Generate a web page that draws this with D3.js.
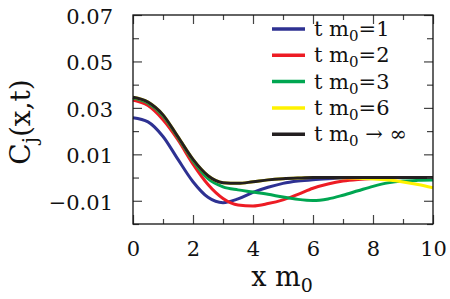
<!DOCTYPE html>
<html lang="en">
  <head>
    <meta charset="UTF-8"/>
    <title>Cj(x,t)</title>
    <script src="https://d3js.org/d3.v7.min.js"></script>
    <style>
        body {
          margin: 0;
          background: #fff;
        }
        text {
          font-family: "DejaVu Serif", serif;
          fill: #111;
        }
        .axis path {
          display: none;
        }
        .axis line {
          stroke: #444;
          stroke-width: 1.2;
        }
        .frame {
          fill: none;
          stroke: #111;
          stroke-width: 1.3;
        }
        .curve {
          fill: none;
          stroke-width: 3;
        }
    </style>
  </head>
  <body>
    <script>
        // x grid shared by every series
        const xs = [0, 0.5, 1, 1.5, 2, 2.5, 3, 3.5, 4, 4.5, 5, 5.5, 6, 6.5, 7, 7.5, 8, 8.5, 9, 9.5, 10]

        // values
        const t1 = [0.0258, 0.0240, 0.0177, 0.0078, -0.0018, -0.0085, -0.0108, -0.0092, -0.0064, -0.0042, -0.0025, -0.0015, -0.0009, -0.0005, -0.0002, 0, 0, 0, 0, 0, 0]
        const t2 = [0.0334, 0.0310, 0.0249, 0.0162, 0.0058, -0.0030, -0.0090, -0.0118, -0.0122, -0.0112, -0.0096, -0.0072, -0.0046, -0.0028, -0.0015, -0.0008, -0.0004, -0.0002, 0, 0, 0]
        const t3 = [0.0342, 0.0320, 0.0265, 0.0172, 0.0072, -0.0005, -0.0040, -0.0053, -0.0062, -0.0072, -0.0084, -0.0094, -0.0099, -0.0092, -0.0076, -0.0057, -0.0038, -0.0023, -0.0015, -0.0012, -0.0011]
        const t6 = [0.0346, 0.0325, 0.0270, 0.0175, 0.0078, 0.0008, -0.0022, -0.0025, -0.0018, -0.0010, -0.0005, -0.0002, 0, 0, -0.0001, -0.0003, -0.0006, -0.0011, -0.0019, -0.0030, -0.0044]
        const tInf = [0.0346, 0.0325, 0.0270, 0.0175, 0.0078, 0.0008, -0.0022, -0.0025, -0.0018, -0.0010, -0.0005, -0.0002, 0, 0, 0, 0, 0, 0, 0, 0, 0]

        const labels = ["=1", "=2", "=3", "=6", " \u2192 \u221e"]
        const colors = ["#2e3192", "#ed1c24", "#00a651", "#fff200", "#231f20"]
        const series = [t1, t2, t3, t6, tInf]

        const xMajor = [0, 2, 4, 6, 8, 10]
        const xMinor = [1, 3, 5, 7, 9]
        const yMajor = [-0.01, 0.01, 0.03, 0.05, 0.07]
        const yMinor = [-0.02, 0, 0.02, 0.04, 0.06]

        const width = 450, height = 299
        const margin = {left: 133, right: 433, top: 15, bottom: 224}

        const x = d3.scaleLinear().domain([0, 10]).range([margin.left, margin.right])
        const y = d3.scaleLinear().domain([-0.02, 0.07]).range([margin.bottom, margin.top])

        const svg = d3.select("body").append("svg")
            .attr("width", width)
            .attr("height", height)

        // plot lines first, frame and ticks on top
        const line = d3.line()
            .x((d, i) => x(xs[i]))
            .y(d => y(d))
            .curve(d3.curveMonotoneX)

        series.forEach((s, i) => {
          svg.append("path")
              .attr("class", "curve")
              .attr("stroke", colors[i])
              .attr("d", line(s))
        })

        // ticks on all four sides, pointing inward
        const fmt = d => d3.format(".2f")(d).replace("-", "\u2212")

        svg.append("g")
            .attr("class", "axis")
            .attr("transform", `translate(0, ${margin.bottom})`)
            .call(d3.axisBottom(x).tickValues(xMajor).tickSize(-9).tickPadding(17).tickFormat(d3.format("d")))
            .call(g => g.selectAll("text").attr("font-size", 21).attr("dy", "0.71em"))
        svg.append("g")
            .attr("class", "axis")
            .attr("transform", `translate(0, ${margin.bottom})`)
            .call(d3.axisBottom(x).tickValues(xMinor).tickSize(-5).tickFormat(""))
        svg.append("g")
            .attr("class", "axis")
            .attr("transform", `translate(0, ${margin.top})`)
            .call(d3.axisTop(x).tickValues(xMajor).tickSize(-9).tickFormat(""))
        svg.append("g")
            .attr("class", "axis")
            .attr("transform", `translate(0, ${margin.top})`)
            .call(d3.axisTop(x).tickValues(xMinor).tickSize(-5).tickFormat(""))

        svg.append("g")
            .attr("class", "axis")
            .attr("transform", `translate(${margin.left}, 0)`)
            .call(d3.axisLeft(y).tickValues(yMajor).tickSize(-9).tickPadding(20).tickFormat(fmt))
            .call(g => g.selectAll("text").attr("font-size", 21).attr("dy", "0.4em"))
        svg.append("g")
            .attr("class", "axis")
            .attr("transform", `translate(${margin.left}, 0)`)
            .call(d3.axisLeft(y).tickValues(yMinor).tickSize(-6).tickFormat(""))
        svg.append("g")
            .attr("class", "axis")
            .attr("transform", `translate(${margin.right}, 0)`)
            .call(d3.axisRight(y).tickValues(yMajor).tickSize(-9).tickFormat(""))
        svg.append("g")
            .attr("class", "axis")
            .attr("transform", `translate(${margin.right}, 0)`)
            .call(d3.axisRight(y).tickValues(yMinor).tickSize(-6).tickFormat(""))

        svg.append("rect")
            .attr("class", "frame")
            .attr("x", margin.left)
            .attr("y", margin.top)
            .attr("width", margin.right - margin.left)
            .attr("height", margin.bottom - margin.top)

        // axis titles
        const xt = svg.append("text")
            .attr("x", 282)
            .attr("y", 286)
            .attr("text-anchor", "middle")
            .attr("font-size", 27)
        xt.append("tspan").text("x m")
        xt.append("tspan").attr("font-size", 19).attr("dy", 6).text("0")

        const yt = svg.append("text")
            .attr("transform", "translate(30, 122) rotate(-90)")
            .attr("text-anchor", "middle")
            .attr("font-size", 28)
        yt.append("tspan").text("C")
        yt.append("tspan").attr("font-size", 20).attr("dy", 7).text("j")
        yt.append("tspan").attr("dy", -7).text("(x,t)")

        // legend
        const legend = svg.append("g")
        labels.forEach((lab, i) => {
          const ly = 29 + i * 26.3
          legend.append("line")
              .attr("x1", 272).attr("x2", 305)
              .attr("y1", ly).attr("y2", ly)
              .attr("stroke", colors[i])
              .attr("stroke-width", 3.5)
          const t = legend.append("text")
              .attr("x", 314)
              .attr("y", ly + 7)
              .attr("font-size", 21)
          t.append("tspan").text("t m")
          t.append("tspan").attr("font-size", 15).attr("dy", 5).text("0")
          t.append("tspan").attr("dy", -5).text(lab)
        })
    </script>
  </body>
</html>
